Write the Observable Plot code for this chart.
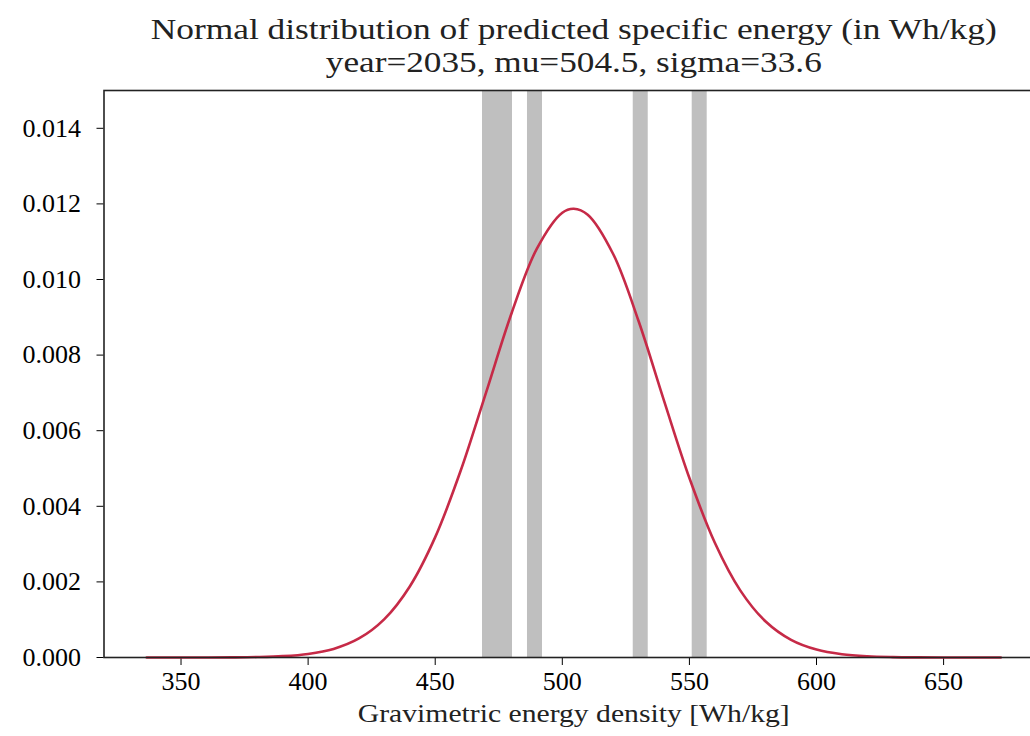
<!DOCTYPE html>
<html>
<head>
<meta charset="utf-8">
<script src="https://cdn.jsdelivr.net/npm/d3@7"></script>
<script src="https://cdn.jsdelivr.net/npm/@observablehq/plot@0.6"></script>
<style>
  html, body { margin: 0; padding: 0; background: #fff; overflow: hidden; }
  #wrap { width: 1030px; height: 736px; overflow: hidden; position: relative; }
  #wrap svg { max-width: none !important; display: block; }
</style>
</head>
<body>
<div id="wrap"></div>
<script>
// Title and labels
const titleLine1 = "Normal distribution of predicted specific energy (in Wh/kg)";
const titleLine2 = "year=2035, mu=504.5, sigma=33.6";
const xLabel = "Gravimetric energy density [Wh/kg]";

// Curve samples (x in Wh/kg, density)
const curveX = [336.5, 350, 360, 370, 380, 390, 400, 410, 420, 430, 440, 450, 460, 470, 480, 490, 500, 504.5,
                510, 520, 530, 540, 550, 560, 570, 580, 590, 600, 610, 620, 630, 640, 650, 660, 672.5];
const curveY = [0.0000000, 0.0000003, 0.0000011, 0.0000039, 0.0000124, 0.0000357, 0.0000943, 0.000227, 0.000503,
                0.001016, 0.001880, 0.003184, 0.004939, 0.007009, 0.009102, 0.010817, 0.011767, 0.011873,
                0.011715, 0.010675, 0.008902, 0.006795, 0.004747, 0.003035, 0.001776, 0.000951, 0.000466,
                0.000209, 0.0000860, 0.0000320, 0.0000110, 0.0000035, 0.0000010, 0.0000003, 0.0000000];

// Grey vertical bands (Wh/kg)
const bandLo = [468.6, 486.3, 527.9, 551.1];
const bandHi = [480.4, 492.2, 533.8, 557.0];

// Ticks
const xTicks = [350, 400, 450, 500, 550, 600, 650];
const yTicks = [0, 0.002, 0.004, 0.006, 0.008, 0.010, 0.012, 0.014];

const curve = curveX.map((x, i) => ({x, y: curveY[i]}));
const bands = bandLo.map((lo, i) => ({lo, hi: bandHi[i]}));

const chart = Plot.plot({
  width: 1050,
  height: 736,
  marginLeft: 103.5,
  marginRight: 7,
  marginTop: 90,
  marginBottom: 79,
  style: {fontFamily: "'Liberation Serif', serif", fontSize: "26px", color: "#000", background: "#fff", maxWidth: "none"},
  x: {domain: [319.7, 689.3], ticks: xTicks, tickFormat: d => String(d), tickSize: 8, tickPadding: 6, label: null},
  y: {domain: [0, 0.015], ticks: yTicks, tickFormat: d => d.toFixed(3), tickSize: 7, tickPadding: 16, label: null},
  marks: [
    Plot.rect(bands, {x1: "lo", x2: "hi", fill: "#bfbfbf"}),
    Plot.line(curve, {x: "x", y: "y", stroke: "#c62a47", strokeWidth: 2.6, curve: "catmull-rom"}),
    Plot.frame({stroke: "#222", strokeWidth: 1.6}),
    Plot.text([titleLine1], {frameAnchor: "top", dy: -51.7, lineAnchor: "bottom", fontSize: 30, fill: "#222"}),
    Plot.text([titleLine2], {frameAnchor: "top", dy: -19, lineAnchor: "bottom", fontSize: 30, fill: "#222"}),
    Plot.text([xLabel], {frameAnchor: "bottom", dy: 64, lineAnchor: "bottom", fontSize: 25, fill: "#222"})
  ]
});
chart.style.maxWidth = "none";

document.getElementById("wrap").appendChild(chart);

// Fit text widths to the reference
const fits = new Map([[titleLine1, 846], [titleLine2, 496], [xLabel, 432]]);
chart.querySelectorAll("text").forEach(t => {
  const w = fits.get(t.textContent);
  if (w) {
    t.setAttribute("textLength", w);
    t.setAttribute("lengthAdjust", "spacingAndGlyphs");
  }
});
</script>
</body>
</html>
